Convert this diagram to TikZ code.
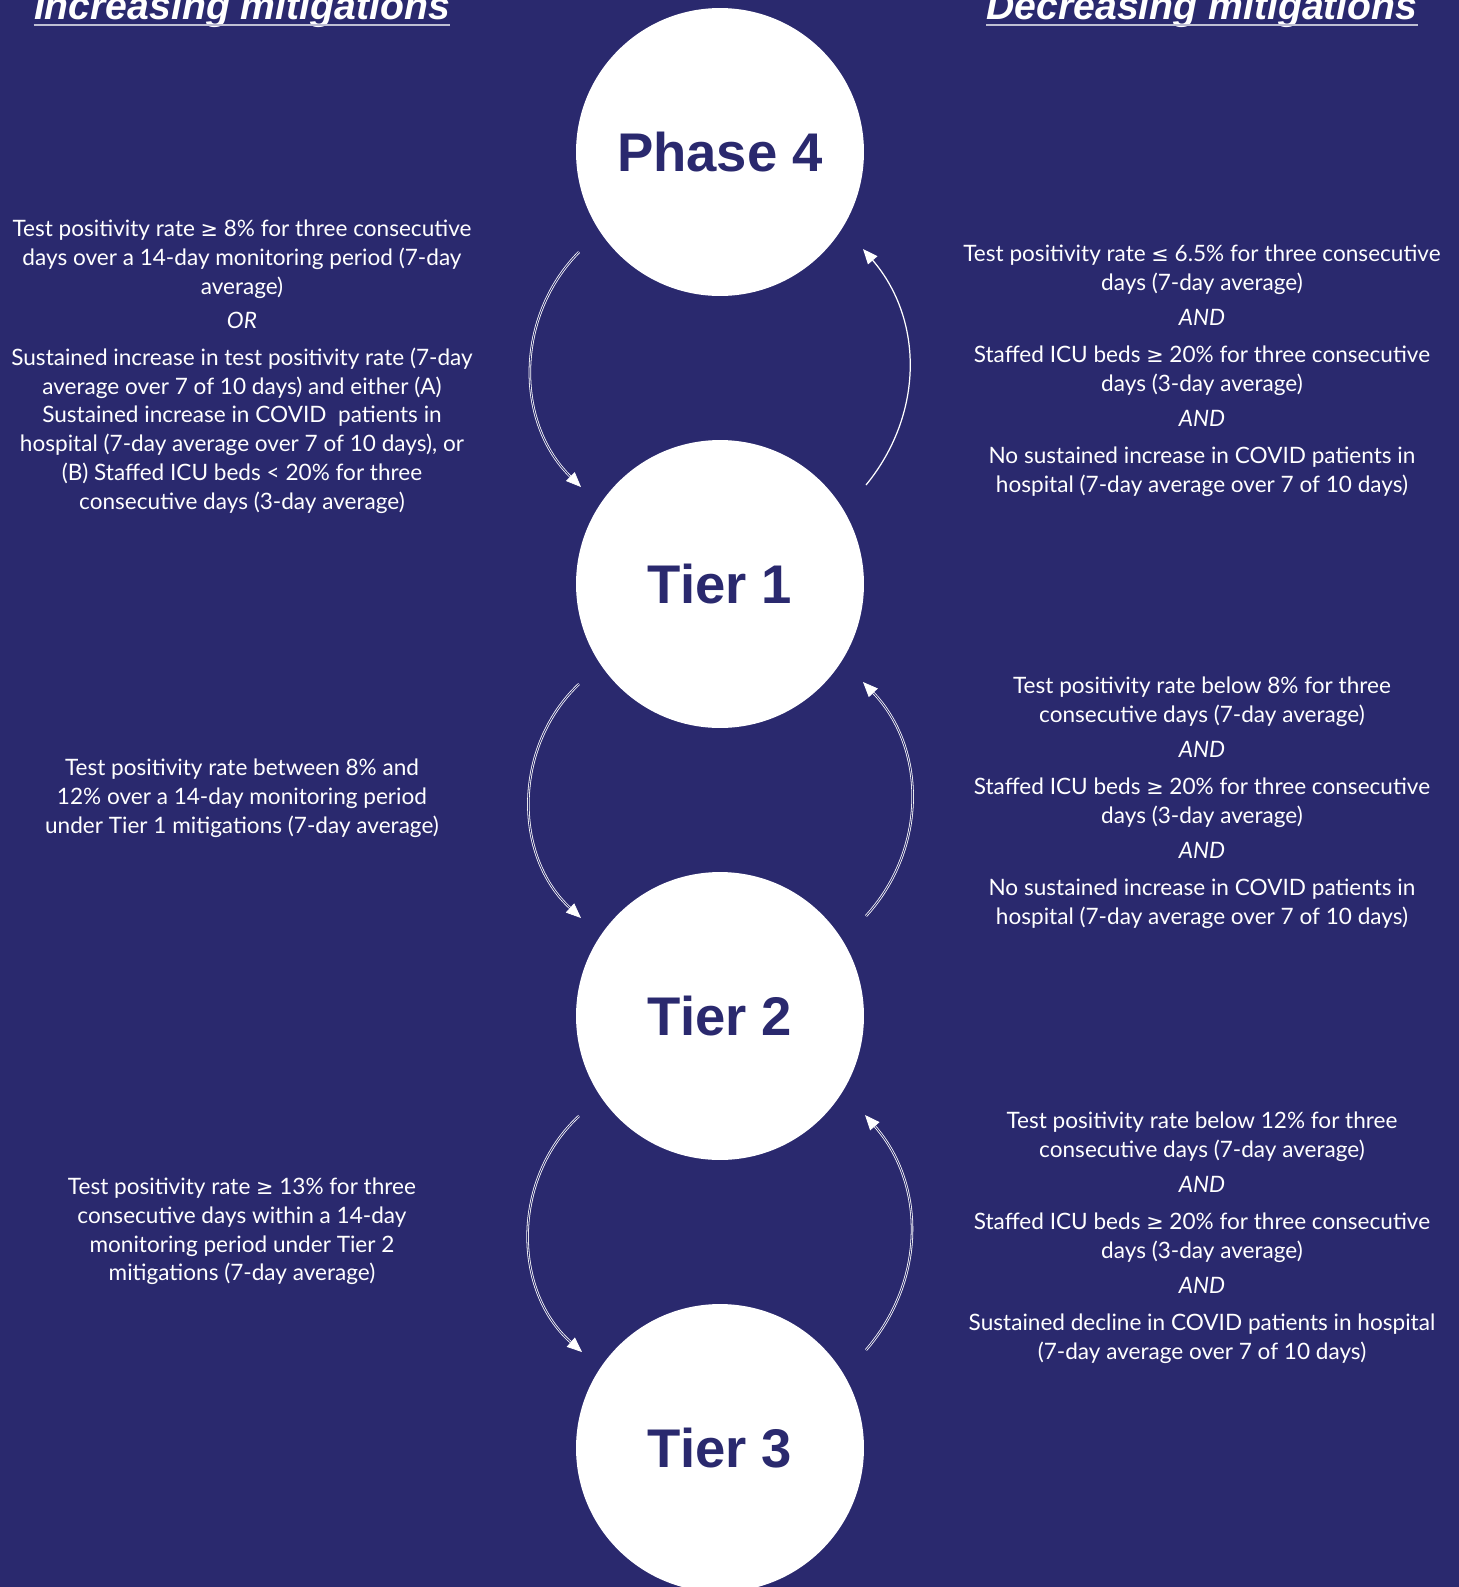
\documentclass[tikz,border=0pt]{standalone}
\usepackage{fontspec}
\setmainfont{Lato}
\newfontfamily\headfont{Liberation Sans}
\newfontfamily\symfont[Scale=0.92]{DejaVu Sans}
\usetikzlibrary{arrows.meta}

\definecolor{bgnavy}{RGB}{42,41,110}
\newcommand{\gesign}{{\symfont ≥}}
\newcommand{\lesign}{{\symfont ≤}}
\newcommand{\andline}{\\[3.5pt]\textit{AND}\\[4.7pt]}

\begin{document}
\begin{tikzpicture}
  [x=0.02cm,y=-0.02cm,
   stage/.style={circle,fill=white,minimum size=5.76cm,inner sep=0pt,text=bgnavy,
     font=\headfont\bfseries\fontsize{31}{36}\selectfont},
   head/.style={anchor=base,inner sep=0pt,text=white,
     font=\headfont\bfseries\itshape\fontsize{22.3}{26}\selectfont},
   uline/.style={white!70!bgnavy,line width=0.8pt},
   crit/.style={anchor=north,inner sep=0pt,align=center,text=white,
     font=\fontsize{12.85}{16.4}\selectfont},
   arr/.style={white,line width=0.7pt,-{Triangle[length=8.5pt,width=7pt]}},
   darr/.style={arr,double=bgnavy,double distance=0.5pt,line width=0.45pt}]
  \useasboundingbox (0,0) rectangle (1459,1587);
  \fill[bgnavy] (0,0) rectangle (1459,1587);

  % headings
  \node[head] (hinc) at (242,19) {Increasing mitigations};
  \node[head] (hdec) at (1202,19) {Decreasing mitigations};
  \draw[uline] ([yshift=-0.12cm]hinc.base west) -- ([yshift=-0.12cm]hinc.base east);
  \draw[uline] ([yshift=-0.12cm]hdec.base west) -- ([yshift=-0.12cm]hdec.base east);

  % stages
  \node[stage] (ph4) at (720,152)  {Phase 4};
  \node[stage] (t1)  at (720,584)  {Tier 1};
  \node[stage] (t2)  at (720,1016) {Tier 2};
  \node[stage] (t3)  at (720,1448) {Tier 3};

  % arrow ends
  \coordinate (a1s) at (579,252);  \coordinate (a1e) at (581,487);
  \coordinate (b1s) at (866,485);  \coordinate (b1e) at (863,249);
  \coordinate (a2s) at (579,684);  \coordinate (a2e) at (581,918);
  \coordinate (b2s) at (866,916);  \coordinate (b2e) at (863,682);
  \coordinate (a3s) at (579,1116); \coordinate (a3e) at (582,1352);
  \coordinate (b3s) at (866,1350); \coordinate (b3e) at (865,1115);

  \foreach \from/\to/\bend in {a1s/a1e/45,a2s/a2e/47,a3s/a3e/48}
    \draw[darr] (\from) to[bend right=\bend] (\to);
  \draw[arr] (b1s) to[bend right=40] (b1e);
  \foreach \from/\to/\bend in {b2s/b2e/43,b3s/b3e/41}
    \draw[darr] (\from) to[bend right=\bend] (\to);

  % increasing
  \node[crit] (inc1) at (242,216) {\strut Test positivity rate \gesign{} 8\% for three consecutive\\
    days over a 14-day monitoring period (7-day\\
    average)\\[3pt]
    \textit{OR}\\[4.7pt]
    Sustained increase in test positivity rate (7-day\\
    average over 7 of 10 days) and either (A)\\
    Sustained increase in COVID\ \ patients in\\
    hospital (7-day average over 7 of 10 days), or\\
    (B) Staffed ICU beds < 20\% for three\\
    consecutive days (3-day average)};
  \node[crit] (inc2) at (242,755) {\strut Test positivity rate between 8\% and\\
    12\% over a 14-day monitoring period\\
    under Tier 1 mitigations (7-day average)};
  \node[crit] (inc3) at (242,1174) {\strut Test positivity rate \gesign{} 13\% for three\\
    consecutive days within a 14-day\\
    monitoring period under Tier 2\\
    mitigations (7-day average)};

  % decreasing
  \node[crit] (dec1) at (1202,241) {\strut Test positivity rate \lesign{} 6.5\% for three consecutive\\
    days (7-day average)\andline
    Staffed ICU beds \gesign{} 20\% for three consecutive\\
    days (3-day average)\andline
    No sustained increase in COVID patients in\\
    hospital (7-day average over 7 of 10 days)};
  \node[crit] (dec2) at (1202,673) {\strut Test positivity rate below 8\% for three\\
    consecutive days (7-day average)\andline
    Staffed ICU beds \gesign{} 20\% for three consecutive\\
    days (3-day average)\andline
    No sustained increase in COVID patients in\\
    hospital (7-day average over 7 of 10 days)};
  \node[crit] (dec3) at (1202,1108) {\strut Test positivity rate below 12\% for three\\
    consecutive days (7-day average)\andline
    Staffed ICU beds \gesign{} 20\% for three consecutive\\
    days (3-day average)\andline
    Sustained decline in COVID patients in hospital\\
    (7-day average over 7 of 10 days)};
\end{tikzpicture}
\end{document}
